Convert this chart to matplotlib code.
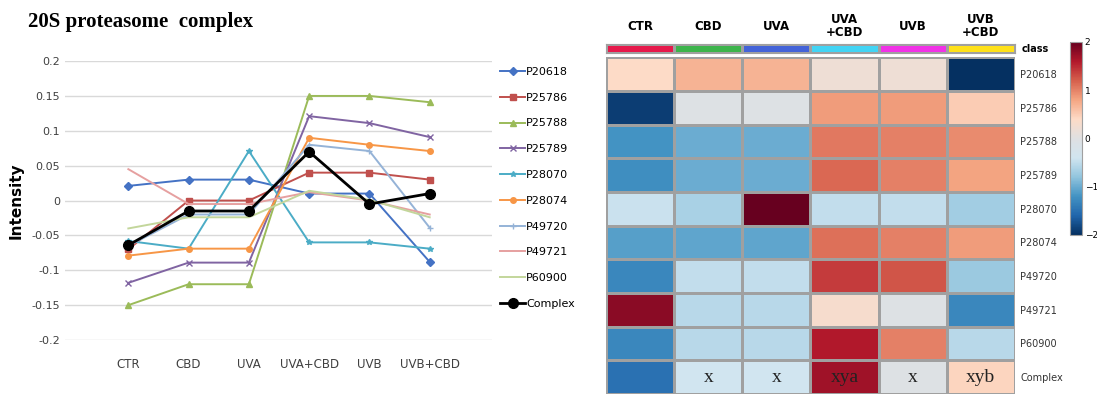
import numpy as np
import matplotlib
matplotlib.use("Agg")
import matplotlib.pyplot as plt
from matplotlib.colors import ListedColormap, LinearSegmentedColormap

# left line chart data
conditions = ["CTR", "CBD", "UVA", "UVA+CBD", "UVB", "UVB+CBD"]
proteins = ["P20618", "P25786", "P25788", "P25789", "P28070",
            "P28074", "P49720", "P49721", "P60900", "Complex"]

p20618 = [0.021, 0.030, 0.030, 0.010, 0.010, -0.088]
p25786 = [-0.070, 0.000, 0.000, 0.040, 0.040, 0.030]
p25788 = [-0.150, -0.120, -0.120, 0.150, 0.150, 0.141]
p25789 = [-0.118, -0.089, -0.089, 0.121, 0.111, 0.091]
p28070 = [-0.058, -0.069, 0.071, -0.060, -0.060, -0.069]
p28074 = [-0.079, -0.069, -0.069, 0.090, 0.080, 0.071]
p49720 = [-0.065, -0.020, -0.020, 0.080, 0.071, -0.039]
p49721 = [0.045, -0.005, -0.005, 0.012, 0.000, -0.020]
p60900 = [-0.040, -0.024, -0.024, 0.014, 0.001, -0.024]
complex_ = [-0.064, -0.015, -0.015, 0.070, -0.005, 0.010]

series = [p20618, p25786, p25788, p25789, p28070,
          p28074, p49720, p49721, p60900, complex_]

# heatmap data (z-scores)
heat_cols = ["CTR", "CBD", "UVA", "UVA\n+CBD", "UVB", "UVB\n+CBD"]
heat = [
    [0.40, 0.70, 0.70, 0.20, 0.20, -2.00],
    [-1.90, -0.05, -0.05, 0.85, 0.85, 0.50],
    [-1.20, -1.00, -1.00, 1.05, 1.00, 0.95],
    [-1.25, -1.00, -1.00, 1.15, 1.00, 0.80],
    [-0.45, -0.65, 2.00, -0.50, -0.50, -0.70],
    [-1.10, -1.05, -1.05, 1.10, 1.00, 0.85],
    [-1.30, -0.50, -0.50, 1.40, 1.25, -0.75],
    [1.80, -0.55, -0.55, 0.30, -0.05, -1.30],
    [-1.30, -0.55, -0.55, 1.60, 1.00, -0.55],
    [-1.50, -0.40, -0.40, 1.70, -0.05, 0.45],
]
complex_marks = ["", "x", "x", "xya", "x", "xyb"]
class_colors = ["#E6194B", "#3CB44B", "#4363D8", "#42D4F4", "#F032E6", "#FFE119"]

line_colors = ["#4472C4", "#C0504D", "#9BBB59", "#8064A2", "#4BACC6",
               "#F79646", "#95B3D7", "#E6A0A0", "#C3D69B", "#000000"]
markers = ["D", "s", "^", "x", "*", "o", "+", "", "", "o"]

# RdBu with a greyish middle, like the reference
heat_cmap = LinearSegmentedColormap.from_list("rdbu_grey", [
    "#053061", "#2166ac", "#4393c3", "#92c5de", "#d1e5f0", "#dfe0e2",
    "#fddbc7", "#f4a582", "#d6604d", "#b2182b", "#67001f"])

fig = plt.figure(figsize=(10.97, 3.94), dpi=100)

# ---- line chart ----
ax = fig.add_axes([0.0593, 0.137, 0.389, 0.708])
x = np.arange(len(conditions))
for i, (name, vals) in enumerate(zip(proteins, series)):
    is_cx = name == "Complex"
    ax.plot(x, vals, color=line_colors[i], marker=markers[i] or None,
            markersize=7 if is_cx else 4, linewidth=2.0 if is_cx else 1.4,
            markeredgewidth=1.0, label=name, zorder=5 if is_cx else 3)
ax.set_xlim(-1.05, 6.03)
ax.set_ylim(-0.2, 0.2)
ax.set_yticks(np.arange(-0.2, 0.201, 0.05))
ax.set_yticklabels(["-0.2", "-0.15", "-0.1", "-0.05", "0", "0.05", "0.1", "0.15", "0.2"])
ax.set_xticks(x)
ax.set_xticklabels(conditions)
ax.tick_params(length=0, labelsize=8, colors="#404040")
ax.tick_params(axis="x", pad=13, labelsize=8.5)
ax.grid(axis="y", color="#D9D9D9", linewidth=1)
ax.set_axisbelow(True)
for s in ax.spines.values():
    s.set_visible(False)
ax.set_ylabel("Intensity", fontsize=11, fontweight="bold", labelpad=6)
ax.legend(loc="upper left", bbox_to_anchor=(1.01, 0.995), frameon=False,
          fontsize=8, labelspacing=1.42, handlelength=2.2, handletextpad=0.1,
          borderaxespad=0)
fig.text(0.0255, 0.945, "20S proteasome  complex", fontsize=15, fontweight="bold",
         family="Liberation Serif", va="center")

# ---- heatmap ----
hx = fig.add_axes([0.5524, 0.0, 0.3728, 0.855])
data = np.array(heat)
mesh = hx.pcolormesh(data, cmap=heat_cmap, vmin=-2, vmax=2,
                     edgecolors="#A0A0A0", linewidth=1)
hx.set_xlim(0, 6)
hx.set_ylim(len(proteins), 0)
hx.set_xticks([])
hx.set_yticks(np.arange(len(proteins)) + 0.5)
hx.set_yticklabels(proteins, fontsize=7, color="#333333")
hx.yaxis.tick_right()
hx.tick_params(length=0, pad=4)
for s in hx.spines.values():
    s.set_visible(False)
for j, m in enumerate(complex_marks):
    if m:
        hx.text(j + 0.5, 9.5, m, ha="center", va="center", fontsize=14,
                family="Liberation Serif", color="#222222")

# class bar
cx = fig.add_axes([0.5524, 0.8655, 0.3728, 0.0228])
cx.pcolormesh(np.arange(6).reshape(1, -1), cmap=ListedColormap(class_colors),
              edgecolors="#A0A0A0", linewidth=1)
cx.set_xlim(0, 6)
cx.set_xticks([])
cx.set_yticks([])
for s in cx.spines.values():
    s.set_color("#A0A0A0")
cx.text(6.1, 0.5, "class", fontsize=7, fontweight="bold", va="center", ha="left")
for j, c in enumerate(heat_cols):
    cx.text(j + 0.5, 3.0, c, fontsize=8.5, fontweight="bold", ha="center",
            va="center", linespacing=0.95)

# colorbar
cb_ax = fig.add_axes([0.9754, 0.4036, 0.011, 0.49])
cb = fig.colorbar(mesh, cax=cb_ax, ticks=[-2, -1, 0, 1, 2])
cb.outline.set_edgecolor("#A0A0A0")
cb_ax.tick_params(length=0, labelsize=6.5, pad=2)

fig.savefig("out.png", dpi=100)
